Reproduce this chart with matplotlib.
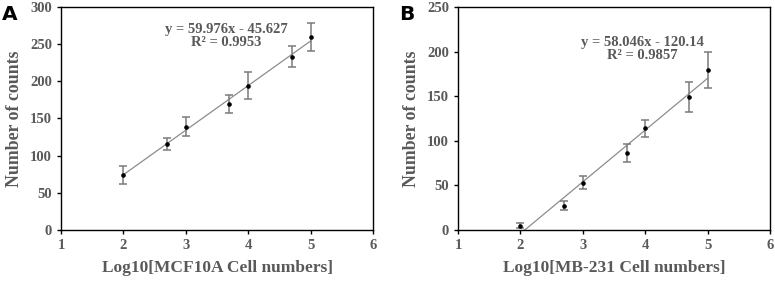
import numpy as np
import matplotlib.pyplot as plt

plt.rcParams['font.family'] = ['Liberation Serif', 'DejaVu Serif']

# panel A - MCF10A
x_a = [2, 2.7, 3, 3.7, 4, 4.7, 5]
y_a = [74, 116, 139, 169, 194, 233, 260]
err_a = [12, 8, 13, 12, 18, 14, 19]
fit_a = (59.976, -45.627)
eq_a = 'y = 59.976x - 45.627\nR² = 0.9953'

# panel B - MB-231
x_b = [2, 2.7, 3, 3.7, 4, 4.7, 5]
y_b = [5, 27, 53, 86, 114, 149, 179]
err_b = [3, 5, 7, 10, 9.5, 17, 20]
fit_b = (58.046, -120.14)
eq_b = 'y = 58.046x - 120.14\nR² = 0.9857'

gray = '#595959'

fig = plt.figure(figsize=(7.75, 2.81), dpi=100)
ax1 = fig.add_axes([0.0787, 0.1815, 0.4026, 0.7936])
ax2 = fig.add_axes([0.591, 0.1815, 0.4026, 0.7936])


def panel(ax, x, y, err, fit, eq, ymax, xlabel, txt_xy, letter):
    xx = np.array([2, 5])
    ax.plot(xx, fit[0] * xx + fit[1], color='#8c8c8c', lw=0.9, zorder=2)
    ax.errorbar(x, y, yerr=err, fmt='o', ms=2.3, color='black', ecolor='#7a7a7a',
                elinewidth=1.1, capsize=2.8, capthick=1.1, zorder=3)
    ax.set_xlim(1, 6)
    ax.set_ylim(0, ymax)
    ax.set_xticks(range(1, 7))
    ax.set_yticks(range(0, ymax + 1, 50))
    ax.tick_params(direction='out', length=3, width=1, colors='black',
                   labelcolor=gray, labelsize=10.5)
    for lab in ax.get_xticklabels() + ax.get_yticklabels():
        lab.set_fontweight('bold')
    for s in ax.spines.values():
        s.set_linewidth(1.0)
    ax.set_xlabel(xlabel, fontsize=12.5, fontweight='bold', color=gray, labelpad=6)
    ax.set_ylabel('Number of counts', fontsize=12.8, fontweight='bold', color=gray, labelpad=5)
    ax.text(txt_xy[0], txt_xy[1], eq, ha='center', va='center', fontsize=10.5,
            fontweight='bold', color=gray, linespacing=1.05)
    ax.text(-0.19, 1.01, letter, transform=ax.transAxes, fontsize=14.5, fontweight='bold',
            family='DejaVu Sans', color='black', ha='left', va='top')


panel(ax1, x_a, y_a, err_a, fit_a, eq_a, 300, 'Log10[MCF10A Cell numbers]', (3.65, 261), 'A')
panel(ax2, x_b, y_b, err_b, fit_b, eq_b, 250, 'Log10[MB-231 Cell numbers]', (3.96, 203), 'B')

fig.savefig('out.png', dpi=100)
